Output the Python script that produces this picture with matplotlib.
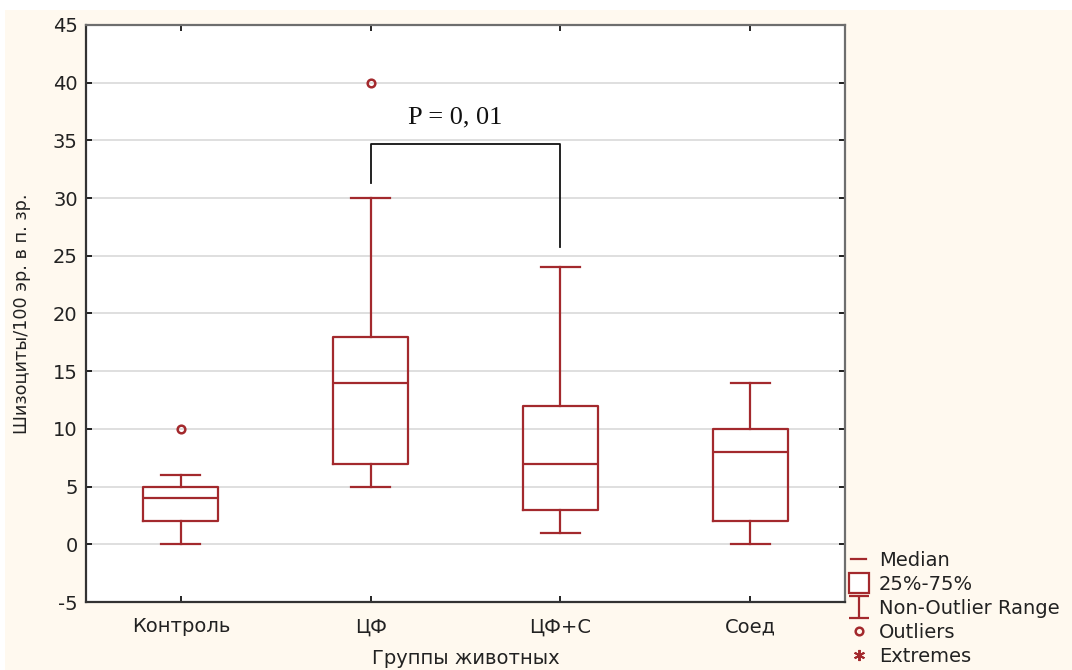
import matplotlib
matplotlib.use("Agg")
import matplotlib.pyplot as plt
from matplotlib.patches import Rectangle
from matplotlib.lines import Line2D
from matplotlib.path import Path
import numpy as np

plt.rcParams['font.family'] = ['DejaVu Sans']
plt.rcParams['axes.unicode_minus'] = False

categories = ["Контроль", "ЦФ", "ЦФ+С", "Соед"]
whisker_low = [0, 5, 1, 0]
q1 = [2, 7, 3, 2]
median = [4, 14, 7, 8]
q3 = [5, 18, 12, 10]
whisker_high = [6, 30, 24, 14]
outliers = [[10], [40], [], []]

y_ticks = [-5, 0, 5, 10, 15, 20, 25, 30, 35, 40, 45]
p_text = "P = 0, 01"
bracket_left_bottom = 31.3
bracket_top = 34.7
bracket_right_bottom = 25.8

box_color = "#A3292D"
cream = "#FFF9EF"
FS = 14

fig = plt.figure(figsize=(10.72, 6.70), dpi=100, facecolor="white")
fig.patches.append(Rectangle((5 / 1072, 0), 1, 1 - 10 / 670, transform=fig.transFigure,
                             facecolor=cream, edgecolor="none", zorder=-10))

ax = fig.add_axes([86 / 1072, 1 - 602 / 670, (845 - 86) / 1072, (602 - 25) / 670])
ax.set_facecolor("white")

stats = []
for i, c in enumerate(categories):
    stats.append(dict(label=c, whislo=whisker_low[i], q1=q1[i], med=median[i],
                      q3=q3[i], whishi=whisker_high[i], fliers=outliers[i]))

positions = np.arange(1, len(categories) + 1)
ax.bxp(stats, positions=positions, widths=0.395, showfliers=True,
       boxprops=dict(color=box_color, linewidth=1.6),
       medianprops=dict(color=box_color, linewidth=1.6),
       whiskerprops=dict(color=box_color, linewidth=1.6),
       capprops=dict(color=box_color, linewidth=1.6),
       capwidths=0.205,
       flierprops=dict(marker='o', markersize=5.5, markerfacecolor='none',
                       markeredgecolor=box_color, markeredgewidth=1.8),
       zorder=3)

ax.set_xlim(0.5, 4.5)
ax.set_ylim(-5, 45)
ax.set_yticks(y_ticks)
ax.set_xticks(positions)
ax.set_xticklabels(categories)
ax.yaxis.grid(True, color="#D9D9D9", linewidth=1.2, zorder=0)
ax.set_axisbelow(True)

ax.tick_params(axis='both', direction='in', length=4, width=1.2, labelsize=FS,
               labelcolor="#222222", top=True, right=True)
ax.tick_params(axis='y', pad=6)
ax.tick_params(axis='x', pad=11)
for s in ["left", "bottom"]:
    ax.spines[s].set_color("#333333")
    ax.spines[s].set_linewidth(1.6)
for s in ["top", "right"]:
    ax.spines[s].set_color("#6E6E6E")
    ax.spines[s].set_linewidth(1.6)

ax.set_ylabel("Шизоциты/100 эр. в п. зр.", fontsize=12.7, color="#222222", labelpad=16)
ax.set_xlabel("Группы животных", fontsize=FS, color="#222222", labelpad=9)

# significance bracket
ax.plot([positions[1], positions[1], positions[2], positions[2]],
        [bracket_left_bottom, bracket_top, bracket_top, bracket_right_bottom],
        color="#111111", linewidth=1.3, zorder=4)
ax.text(2.447, 37.0, p_text, fontsize=19, family=['Liberation Serif', 'DejaVu Serif'],
        ha='center', va='center', color="#111111")

# legend
ibeam = Path([(-0.45, 0.5), (0.45, 0.5), (0, 0.5), (0, -0.5), (-0.45, -0.5), (0.45, -0.5)],
             [Path.MOVETO, Path.LINETO, Path.MOVETO, Path.LINETO, Path.MOVETO, Path.LINETO])
handles = [
    Line2D([], [], color=box_color, linewidth=1.6, marker=None),
    Line2D([], [], linestyle='none', marker='s', markersize=14.5, markerfacecolor='white',
           markeredgecolor=box_color, markeredgewidth=1.6),
    Line2D([], [], linestyle='none', marker=ibeam, markersize=16, markerfacecolor='none',
           markeredgecolor=box_color, markeredgewidth=1.6),
    Line2D([], [], linestyle='none', marker='o', markersize=5.5, markerfacecolor='none',
           markeredgecolor=box_color, markeredgewidth=1.8),
    Line2D([], [], linestyle='none', marker=(6, 2, 0), markersize=8,
           markeredgecolor=box_color, markeredgewidth=1.4),
]
labels = ["Median", "25%-75%", "Non-Outlier Range", "Outliers", "Extremes"]
fig.legend(handles, labels, loc='lower left', bbox_to_anchor=(843 / 1072, -4 / 670),
           frameon=False, fontsize=FS, handlelength=0.8, handletextpad=0.65,
           labelspacing=0.26, labelcolor="#222222", borderaxespad=0)

fig.savefig("out.png", dpi=100, facecolor=fig.get_facecolor())
